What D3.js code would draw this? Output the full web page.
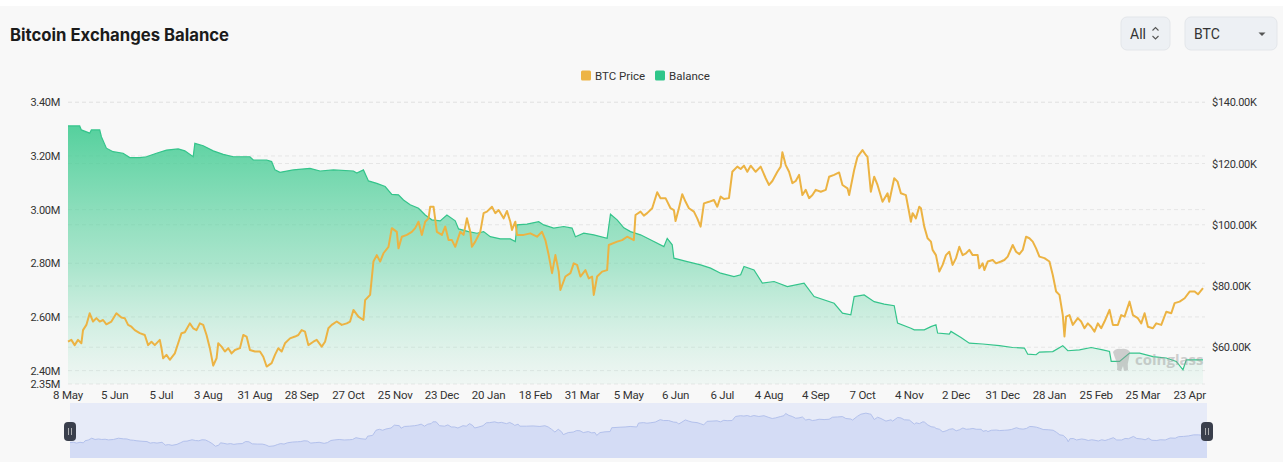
<!DOCTYPE html>
<html>
<head>
<meta charset="utf-8">
<script src="https://cdn.jsdelivr.net/npm/d3@7"></script>
<style>
  html, body { margin: 0; padding: 0; background: #ffffff; }
  svg { display: block; }
</style>
</head>
<body>
<svg id="chart" width="1283" height="467"></svg>
<script>
// ---------------- DATA ----------------
const title = "Bitcoin Exchanges Balance";
const seriesNames = ["BTC Price", "Balance"];
const categoryCount = 681;           // daily categories on the x axis
const tickInterval = 28;             // a label every 28 categories
const tickLabels = ["8 May","5 Jun","5 Jul","3 Aug","31 Aug","28 Sep","27 Oct","25 Nov","23 Dec","20 Jan","18 Feb","31 Mar","5 May","6 Jun","6 Jul","4 Aug","4 Sep","7 Oct","4 Nov","2 Dec","31 Dec","28 Jan","25 Feb","25 Mar","23 Apr"];
const leftTicks = [2.35, 2.40, 2.60, 2.80, 3.00, 3.20, 3.40];   // millions BTC
const rightTicks = [60, 80, 100, 120, 140];                     // thousands USD
const leftDomain = [2.35, 3.40];
const rightDomain = [48, 140];

// Balance (M BTC) : category index / value
const balanceIdx = [0,7,8,13,14,19,20,23,27,33,37,43,47,53,59,66,70,75,76,81,87,93,99,109,111,119,122,124,127,135,145,151,159,171,173,177,180,185,190,194,198,201,205,210,214,218,223,227,232,234,240,245,249,253,259,265,268,269,275,282,285,291,297,302,304,309,315,323,325,329,333,337,343,351,357,359,362,363,371,379,385,391,399,403,405,411,416,423,431,441,447,459,464,469,471,477,483,489,495,497,505,507,513,517,520,521,528,529,535,540,548,558,566,573,575,580,582,590,596,599,606,613,620,624,625,630,636,642,650,658,664,668,670,680];
const balanceM = [3.312,3.312,3.297,3.285,3.297,3.297,3.272,3.229,3.216,3.210,3.194,3.194,3.197,3.210,3.222,3.226,3.219,3.197,3.247,3.238,3.219,3.206,3.197,3.197,3.185,3.185,3.179,3.148,3.139,3.148,3.154,3.144,3.148,3.144,3.136,3.148,3.107,3.098,3.086,3.057,3.055,3.036,3.018,3.005,2.980,2.962,2.958,2.980,2.958,2.928,2.918,2.912,2.918,2.899,2.891,2.891,2.881,2.943,2.946,2.955,2.943,2.931,2.937,2.931,2.899,2.912,2.906,2.893,2.983,2.962,2.932,2.918,2.906,2.881,2.862,2.893,2.869,2.819,2.806,2.794,2.782,2.763,2.750,2.757,2.788,2.775,2.726,2.732,2.713,2.726,2.676,2.651,2.614,2.608,2.676,2.682,2.657,2.648,2.642,2.577,2.558,2.552,2.552,2.564,2.571,2.540,2.536,2.546,2.523,2.502,2.499,2.493,2.486,2.484,2.461,2.459,2.469,2.471,2.493,2.474,2.477,2.486,2.477,2.471,2.434,2.434,2.465,2.465,2.452,2.447,2.434,2.403,2.440,2.440];

// BTC price (K USD) : category index / value
const priceIdx = [0,2,4,6,8,9,11,13,15,17,19,21,23,26,29,32,34,36,38,40,43,46,48,50,52,55,56,57,59,61,64,66,68,70,73,75,77,79,81,83,85,87,89,90,92,94,96,98,100,103,105,107,109,112,115,117,119,122,124,126,128,130,133,136,138,140,142,144,147,149,152,154,156,158,161,164,167,169,171,174,177,178,181,183,185,187,189,192,194,197,198,200,203,206,208,210,212,214,216,217,219,221,224,226,228,230,232,235,237,239,241,242,244,247,249,251,254,256,258,261,263,265,266,268,269,273,277,281,284,286,288,290,292,294,295,298,301,303,305,307,310,312,314,315,317,320,323,324,329,332,335,339,340,343,345,347,350,353,355,358,361,363,364,366,368,370,372,375,377,379,381,384,387,389,391,393,396,398,401,403,405,407,409,412,415,418,420,422,425,427,428,430,432,434,436,438,440,442,444,446,448,451,454,456,459,462,464,467,468,471,473,476,478,479,481,483,485,488,491,492,495,497,499,502,505,506,508,510,511,513,515,517,518,520,522,524,526,528,530,532,534,536,538,540,542,545,546,548,549,551,554,556,559,561,563,566,568,570,572,574,576,578,580,582,585,588,590,592,594,596,597,598,600,602,605,607,609,611,613,615,617,619,621,624,626,629,631,633,636,638,641,643,645,647,650,652,655,658,661,663,666,669,672,675,677,680];
const priceK = [61.8,62.4,60.7,62.4,61.3,65.6,67.3,71.1,68.4,69.5,68.4,68.9,67.5,68.4,71.1,69.7,69.5,67.3,66.7,65.6,64.6,64.0,60.7,61.8,60.7,62.4,59.7,56.4,57.5,55.9,58.0,61.3,64.6,64.9,67.8,66.2,65.6,67.8,67.3,64.0,59.7,54.0,56.4,61.3,60.2,58.6,59.7,58.0,59.1,59.7,64.0,63.5,59.1,58.6,58.6,56.9,53.7,54.8,57.5,59.7,58.6,61.3,62.9,63.5,64.0,65.6,65.1,60.7,61.8,62.4,60.2,61.8,66.2,67.3,68.4,67.3,67.8,68.4,72.2,70.0,68.9,75.4,77.1,88.0,90.1,88.0,90.7,92.8,98.9,97.7,92.3,96.1,96.7,97.7,98.9,101.0,96.7,101.0,102.1,105.9,105.9,97.7,96.7,99.4,95.0,95.0,92.8,97.7,96.7,102.1,97.7,92.8,94.5,97.7,103.8,104.3,105.9,103.8,104.8,102.1,104.5,101.0,98.3,101.0,96.7,96.7,97.2,96.1,97.7,95.0,90.1,84.2,90.1,84.7,78.7,83.1,84.2,87.4,86.9,83.1,85.2,82.5,83.1,77.1,83.1,84.7,85.2,93.4,94.5,95.0,96.1,95.0,103.2,104.3,103.0,103.8,105.4,110.6,108.7,108.7,105.4,104.8,101.2,105.4,110.0,107.5,105.4,104.3,102.1,99.4,107.0,107.5,108.1,105.9,109.2,108.4,108.7,117.3,119.0,118.2,119.3,117.3,119.3,117.3,119.0,115.2,113.0,114.3,117.3,119.0,123.7,119.5,117.3,113.6,114.3,116.3,109.7,111.4,108.7,109.7,111.4,110.8,111.4,115.7,116.3,117.1,113.0,111.9,109.7,117.9,122.2,124.4,122.8,122.2,110.8,115.7,113.0,107.5,110.3,107.5,115.2,114.1,110.3,109.7,101.0,103.8,102.1,105.9,105.4,99.4,95.6,94.5,91.8,90.1,84.7,86.9,90.1,91.2,86.9,89.1,92.8,90.1,90.7,91.8,90.1,90.1,85.8,87.4,85.2,88.0,88.5,87.4,88.0,88.5,89.6,93.4,91.2,90.4,91.8,96.1,95.6,94.5,92.3,89.6,89.1,88.0,83.6,78.2,77.1,70.5,63.5,70.0,70.5,67.3,69.5,68.4,66.2,67.8,66.7,65.1,67.8,66.2,68.4,72.2,67.3,67.3,70.5,70.0,74.9,70.5,69.5,67.8,71.1,66.7,66.2,67.8,67.3,71.6,71.1,74.4,74.9,76.0,78.2,78.2,77.3,79.3];

// ---------------- CHART ----------------
const svg = d3.select("#chart");
const W = 1283, H = 467;
const plot = { left: 68, right: 1203, top: 102.3, bottom: 384 };
const nav = { left: 70, right: 1207, top: 403, bottom: 458 };
const fontAxis = "Roboto, 'Noto Sans', sans-serif";

// card background
svg.append("rect").attr("x", 0).attr("y", 6).attr("width", W).attr("height", 456).attr("fill", "#f8f8f8");

const x = d3.scaleLinear().domain([0, categoryCount - 1]).range([plot.left, plot.right]);
const yL = d3.scaleLinear().domain(leftDomain).range([plot.bottom, plot.top]);
const yR = d3.scaleLinear().domain(rightDomain).range([plot.bottom, plot.top]);

// title
svg.append("text").attr("x", 10).attr("y", 41)
  .attr("font-family", "Inter, 'Noto Sans', sans-serif").attr("font-weight", 700)
  .attr("font-size", 16.7).attr("fill", "#1b1b1b").text(title);

// top-right controls
function button(x0, w, label) {
  const g = svg.append("g");
  g.append("rect").attr("x", x0).attr("y", 17).attr("width", w).attr("height", 33).attr("rx", 6)
    .attr("fill", "#edf0f4").attr("stroke", "#e3e6ea");
  g.append("text").attr("x", x0 + 9).attr("y", 38.5).attr("font-family", fontAxis)
    .attr("font-size", 14).attr("fill", "#333").text(label);
  return g;
}
const b1 = button(1121, 49, "All");
b1.append("path").attr("d", "M1152.5,30.5 l3,-3 l3,3 M1152.5,36 l3,3 l3,-3")
  .attr("fill", "none").attr("stroke", "#555").attr("stroke-width", 1.1);
const b2 = button(1185, 92, "BTC");
b2.append("path").attr("d", "M1258.5,32.5 l7,0 l-3.5,3.5 z").attr("fill", "#555");

// legend
const legend = svg.append("g").attr("font-family", fontAxis).attr("font-size", 12).attr("fill", "#333");
const legendColors = ["#edb445", "#2fc68a"];
const legendX = [581, 655];
seriesNames.forEach((n, i) => {
  legend.append("rect").attr("x", legendX[i]).attr("y", 70.5).attr("width", 10).attr("height", 10).attr("rx", 1.5).attr("fill", legendColors[i]);
  legend.append("text").attr("x", legendX[i] + 14).attr("y", 79.5).attr("font-size", 11.5).text(n);
});

// gridlines (both axes)
const grid = svg.append("g");
leftTicks.forEach(t => grid.append("line").attr("x1", plot.left).attr("x2", plot.right + 2)
  .attr("y1", yL(t)).attr("y2", yL(t)).attr("stroke", "#e6e6e6").attr("stroke-dasharray", "4,3"));
rightTicks.forEach(t => grid.append("line").attr("x1", plot.left).attr("x2", plot.right + 2)
  .attr("y1", yR(t)).attr("y2", yR(t)).attr("stroke", "#e6e6e6").attr("stroke-dasharray", "4,3"));

// gradient for balance area
const topY = yL(d3.max(balanceM));
const defs = svg.append("defs");
const grad = defs.append("linearGradient").attr("id", "balGrad").attr("gradientUnits", "userSpaceOnUse")
  .attr("x1", 0).attr("x2", 0).attr("y1", topY).attr("y2", plot.bottom);
grad.append("stop").attr("offset", "0%").attr("stop-color", "#3fcb91").attr("stop-opacity", 0.88);
grad.append("stop").attr("offset", "55%").attr("stop-color", "#5fd3a2").attr("stop-opacity", 0.5);
grad.append("stop").attr("offset", "100%").attr("stop-color", "#8fe0bd").attr("stop-opacity", 0.08);

const balData = balanceIdx.map((d, i) => [d, balanceM[i]]);
const priceData = priceIdx.map((d, i) => [d, priceK[i]]);

svg.append("path").datum(balData)
  .attr("d", d3.area().x(d => x(d[0])).y0(plot.bottom).y1(d => yL(d[1])))
  .attr("fill", "url(#balGrad)");
svg.append("path").datum(balData)
  .attr("d", d3.line().x(d => x(d[0])).y(d => yL(d[1])))
  .attr("fill", "none").attr("stroke", "#34c48b").attr("stroke-width", 1.2);

// watermark
const wm = svg.append("g").attr("opacity", 0.45);
wm.append("path").attr("d", "M1113,352 q3,-4 8,-3 q6,-1 9,3 l-1,6 q-2,6 -1,12 l-4,1 l-1,-5 l-2,5 l-4,-1 q1,-6 -2,-12 z").attr("fill", "#9a9a9a");
wm.append("text").attr("x", 1135).attr("y", 364.5).attr("font-family", "'Open Sans', sans-serif")
  .attr("font-weight", 700).attr("font-size", 15).attr("fill", "#9a9a9a").text("coinglass");

svg.append("path").datum(priceData)
  .attr("d", d3.line().x(d => x(d[0])).y(d => yR(d[1])))
  .attr("fill", "none").attr("stroke", "#ecb343").attr("stroke-width", 2).attr("stroke-linejoin", "round");

// axes labels
const axisG = svg.append("g").attr("font-family", fontAxis).attr("font-size", 12).attr("fill", "#333");
leftTicks.forEach(t => axisG.append("text").attr("x", 60).attr("y", yL(t) + 4).attr("text-anchor", "end")
  .attr("font-size", 11).attr("letter-spacing", -0.3).text(t.toFixed(2) + "M"));
rightTicks.forEach(t => axisG.append("text").attr("x", 1212).attr("y", yR(t) + 4)
  .attr("font-size", 11).attr("letter-spacing", -0.3).text("$" + t.toFixed(2) + "K"));
tickLabels.forEach((l, i) => axisG.append("text").attr("x", x(i * tickInterval)).attr("y", 399)
  .attr("text-anchor", "middle").attr("font-size", 11.5).attr("letter-spacing", -0.2).text(l));

// navigator
const xn = d3.scaleLinear().domain([0, categoryCount - 1]).range([nav.left, nav.right]);
const yn = d3.scaleLinear().domain([29, 146]).range([nav.bottom, nav.top]);
svg.append("rect").attr("x", nav.left).attr("y", nav.top).attr("width", nav.right - nav.left)
  .attr("height", nav.bottom - nav.top).attr("fill", "#e7ebf8");
svg.append("path").datum(priceData)
  .attr("d", d3.area().x(d => xn(d[0])).y0(nav.bottom).y1(d => yn(d[1])))
  .attr("fill", "#d4dcf5");
svg.append("path").datum(priceData)
  .attr("d", d3.line().x(d => xn(d[0])).y(d => yn(d[1])))
  .attr("fill", "none").attr("stroke", "#b3c1ec").attr("stroke-width", 1);
[nav.left, nav.right].forEach(hx => {
  const g = svg.append("g");
  g.append("rect").attr("x", hx - 6).attr("y", 422).attr("width", 12).attr("height", 19).attr("rx", 4)
    .attr("fill", "#3a3f4c");
  g.append("line").attr("x1", hx - 1.5).attr("x2", hx - 1.5).attr("y1", 428).attr("y2", 435).attr("stroke", "#ccc").attr("stroke-width", 0.8);
  g.append("line").attr("x1", hx + 1.5).attr("x2", hx + 1.5).attr("y1", 428).attr("y2", 435).attr("stroke", "#ccc").attr("stroke-width", 0.8);
});
</script>
</body>
</html>
